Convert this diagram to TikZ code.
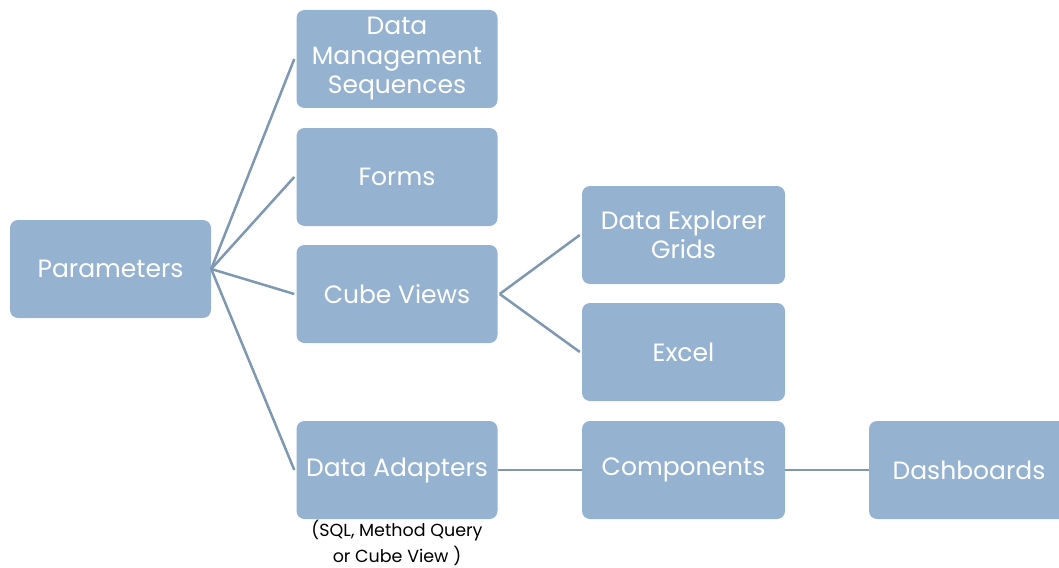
\documentclass[tikz,border=0pt]{standalone}
\usepackage{fontspec}
\setmainfont{Poppins}
\definecolor{boxfill}{HTML}{95B3D1}
\definecolor{linkcol}{HTML}{7E98B1}
\begin{document}
\begin{tikzpicture}[x=1pt,y=-1pt,
  box/.style={draw=none,fill=boxfill,rounded corners=8pt,text=white,align=center,
    font=\fontsize{25}{29.5}\selectfont,inner sep=0pt},
  link/.style={draw=linkcol,line width=2.5pt},
  note/.style={font=\fontsize{17.5}{26}\selectfont,align=center,text=black}]
\useasboundingbox (0,0) rectangle (1059,567);
\node[box,minimum width=201pt,minimum height=98pt] (par) at (110.5,269) {Parameters};
\node[box,minimum width=201pt,minimum height=98pt] (dms) at (397,59) {Data\\Management\\Sequences};
\node[box,minimum width=201pt,minimum height=98pt] (forms) at (397,177) {Forms};
\node[box,minimum width=201pt,minimum height=98pt] (cube) at (397,294) {Cube Views};
\node[box,minimum width=201pt,minimum height=98pt] (da) at (397,470) {Data Adapters};
\node[box,minimum width=203pt,minimum height=98pt] (deg) at (683.5,235) {Data Explorer\\Grids};
\node[box,minimum width=203pt,minimum height=98pt] (excel) at (683.5,352) {Excel};
\node[box,minimum width=203pt,minimum height=98pt] (comp) at (683.5,470) {Components};
\node[box,minimum width=200pt,minimum height=98pt] (dash) at (969,470) {Dashboards};
\node[note] (danote) at (397,543) {(SQL, Method Query\\or Cube View )};
\draw[link] (par.east) -- ([xshift=-2pt]dms.west);
\draw[link] (par.east) -- ([xshift=-2pt]forms.west);
\draw[link] (par.east) -- ([xshift=-2pt]cube.west);
\draw[link] (par.east) -- ([xshift=-2pt]da.west);
\draw[link] ([xshift=2pt]cube.east) -- ([xshift=-2pt]deg.west);
\draw[link] ([xshift=2pt]cube.east) -- ([xshift=-2pt]excel.west);
\draw[link] (da.east) -- (comp.west);
\draw[link] (comp.east) -- (dash.west);
\end{tikzpicture}
\end{document}
